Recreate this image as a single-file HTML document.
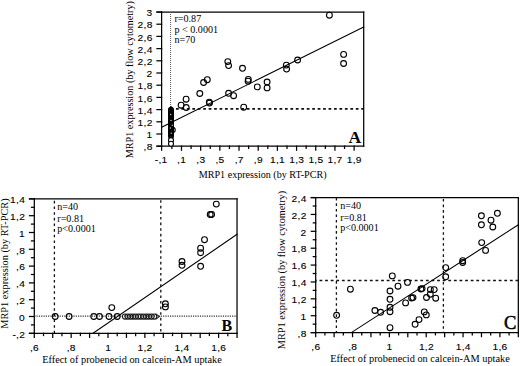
<!DOCTYPE html>
<html><head><meta charset="utf-8"><style>
html,body{margin:0;padding:0;background:#fff;}
body{width:520px;height:366px;overflow:hidden;}
svg{display:block;}
</style></head><body>
<svg width="520" height="366" viewBox="0 0 520 366">
<rect width="520" height="366" fill="#fff"/>
<line x1="157.00" y1="12.00" x2="363.70" y2="12.00" stroke="#000" stroke-width="1.25" stroke-linecap="square"/>
<line x1="363.70" y1="12.00" x2="363.70" y2="146.20" stroke="#000" stroke-width="1.25" stroke-linecap="square"/>
<line x1="157.00" y1="146.20" x2="363.70" y2="146.20" stroke="#000" stroke-width="1.25" stroke-linecap="square"/>
<line x1="161.60" y1="12.00" x2="161.60" y2="150.20" stroke="#000" stroke-width="1.25" stroke-linecap="square"/>
<line x1="157.00" y1="146.20" x2="161.60" y2="146.20" stroke="#000" stroke-width="1.25" stroke-linecap="square"/>
<text transform="translate(152.56,150.40) scale(1.05,1)" font-family='"Liberation Sans", sans-serif' font-size="9.7" font-weight="normal" stroke="#000" stroke-width="0.12" letter-spacing="0.25" text-anchor="end">,8</text>
<line x1="157.00" y1="134.00" x2="161.60" y2="134.00" stroke="#000" stroke-width="1.25" stroke-linecap="square"/>
<text transform="translate(152.56,138.20) scale(1.05,1)" font-family='"Liberation Sans", sans-serif' font-size="9.7" font-weight="normal" stroke="#000" stroke-width="0.12" letter-spacing="0.25" text-anchor="end">1</text>
<line x1="157.00" y1="121.80" x2="161.60" y2="121.80" stroke="#000" stroke-width="1.25" stroke-linecap="square"/>
<text transform="translate(152.56,126.00) scale(1.05,1)" font-family='"Liberation Sans", sans-serif' font-size="9.7" font-weight="normal" stroke="#000" stroke-width="0.12" letter-spacing="0.25" text-anchor="end">1,2</text>
<line x1="157.00" y1="109.60" x2="161.60" y2="109.60" stroke="#000" stroke-width="1.25" stroke-linecap="square"/>
<text transform="translate(152.56,113.80) scale(1.05,1)" font-family='"Liberation Sans", sans-serif' font-size="9.7" font-weight="normal" stroke="#000" stroke-width="0.12" letter-spacing="0.25" text-anchor="end">1,4</text>
<line x1="157.00" y1="97.40" x2="161.60" y2="97.40" stroke="#000" stroke-width="1.25" stroke-linecap="square"/>
<text transform="translate(152.56,101.60) scale(1.05,1)" font-family='"Liberation Sans", sans-serif' font-size="9.7" font-weight="normal" stroke="#000" stroke-width="0.12" letter-spacing="0.25" text-anchor="end">1,6</text>
<line x1="157.00" y1="85.20" x2="161.60" y2="85.20" stroke="#000" stroke-width="1.25" stroke-linecap="square"/>
<text transform="translate(152.56,89.40) scale(1.05,1)" font-family='"Liberation Sans", sans-serif' font-size="9.7" font-weight="normal" stroke="#000" stroke-width="0.12" letter-spacing="0.25" text-anchor="end">1,8</text>
<line x1="157.00" y1="73.00" x2="161.60" y2="73.00" stroke="#000" stroke-width="1.25" stroke-linecap="square"/>
<text transform="translate(152.56,77.20) scale(1.05,1)" font-family='"Liberation Sans", sans-serif' font-size="9.7" font-weight="normal" stroke="#000" stroke-width="0.12" letter-spacing="0.25" text-anchor="end">2</text>
<line x1="157.00" y1="60.80" x2="161.60" y2="60.80" stroke="#000" stroke-width="1.25" stroke-linecap="square"/>
<text transform="translate(152.56,65.00) scale(1.05,1)" font-family='"Liberation Sans", sans-serif' font-size="9.7" font-weight="normal" stroke="#000" stroke-width="0.12" letter-spacing="0.25" text-anchor="end">2,2</text>
<line x1="157.00" y1="48.60" x2="161.60" y2="48.60" stroke="#000" stroke-width="1.25" stroke-linecap="square"/>
<text transform="translate(152.56,52.80) scale(1.05,1)" font-family='"Liberation Sans", sans-serif' font-size="9.7" font-weight="normal" stroke="#000" stroke-width="0.12" letter-spacing="0.25" text-anchor="end">2,4</text>
<line x1="157.00" y1="36.40" x2="161.60" y2="36.40" stroke="#000" stroke-width="1.25" stroke-linecap="square"/>
<text transform="translate(152.56,40.60) scale(1.05,1)" font-family='"Liberation Sans", sans-serif' font-size="9.7" font-weight="normal" stroke="#000" stroke-width="0.12" letter-spacing="0.25" text-anchor="end">2,6</text>
<line x1="157.00" y1="24.20" x2="161.60" y2="24.20" stroke="#000" stroke-width="1.25" stroke-linecap="square"/>
<text transform="translate(152.56,28.40) scale(1.05,1)" font-family='"Liberation Sans", sans-serif' font-size="9.7" font-weight="normal" stroke="#000" stroke-width="0.12" letter-spacing="0.25" text-anchor="end">2,8</text>
<line x1="157.00" y1="12.00" x2="161.60" y2="12.00" stroke="#000" stroke-width="1.25" stroke-linecap="square"/>
<text transform="translate(152.56,16.20) scale(1.05,1)" font-family='"Liberation Sans", sans-serif' font-size="9.7" font-weight="normal" stroke="#000" stroke-width="0.12" letter-spacing="0.25" text-anchor="end">3</text>
<text transform="translate(161.13,163.20) scale(1.05,1)" font-family='"Liberation Sans", sans-serif' font-size="9.7" font-weight="normal" stroke="#000" stroke-width="0.12" letter-spacing="0.25" text-anchor="middle">-,1</text>
<line x1="171.90" y1="146.20" x2="171.90" y2="148.40" stroke="#000" stroke-width="1.25" stroke-linecap="square"/>
<line x1="181.49" y1="146.20" x2="181.49" y2="150.20" stroke="#000" stroke-width="1.25" stroke-linecap="square"/>
<text transform="translate(181.62,163.20) scale(1.05,1)" font-family='"Liberation Sans", sans-serif' font-size="9.7" font-weight="normal" stroke="#000" stroke-width="0.12" letter-spacing="0.25" text-anchor="middle">,1</text>
<line x1="191.08" y1="146.20" x2="191.08" y2="148.40" stroke="#000" stroke-width="1.25" stroke-linecap="square"/>
<line x1="200.67" y1="146.20" x2="200.67" y2="150.20" stroke="#000" stroke-width="1.25" stroke-linecap="square"/>
<text transform="translate(200.80,163.20) scale(1.05,1)" font-family='"Liberation Sans", sans-serif' font-size="9.7" font-weight="normal" stroke="#000" stroke-width="0.12" letter-spacing="0.25" text-anchor="middle">,3</text>
<line x1="210.26" y1="146.20" x2="210.26" y2="148.40" stroke="#000" stroke-width="1.25" stroke-linecap="square"/>
<line x1="219.85" y1="146.20" x2="219.85" y2="150.20" stroke="#000" stroke-width="1.25" stroke-linecap="square"/>
<text transform="translate(219.98,163.20) scale(1.05,1)" font-family='"Liberation Sans", sans-serif' font-size="9.7" font-weight="normal" stroke="#000" stroke-width="0.12" letter-spacing="0.25" text-anchor="middle">,5</text>
<line x1="229.44" y1="146.20" x2="229.44" y2="148.40" stroke="#000" stroke-width="1.25" stroke-linecap="square"/>
<line x1="239.03" y1="146.20" x2="239.03" y2="150.20" stroke="#000" stroke-width="1.25" stroke-linecap="square"/>
<text transform="translate(239.16,163.20) scale(1.05,1)" font-family='"Liberation Sans", sans-serif' font-size="9.7" font-weight="normal" stroke="#000" stroke-width="0.12" letter-spacing="0.25" text-anchor="middle">,7</text>
<line x1="248.62" y1="146.20" x2="248.62" y2="148.40" stroke="#000" stroke-width="1.25" stroke-linecap="square"/>
<line x1="258.21" y1="146.20" x2="258.21" y2="150.20" stroke="#000" stroke-width="1.25" stroke-linecap="square"/>
<text transform="translate(258.34,163.20) scale(1.05,1)" font-family='"Liberation Sans", sans-serif' font-size="9.7" font-weight="normal" stroke="#000" stroke-width="0.12" letter-spacing="0.25" text-anchor="middle">,9</text>
<line x1="267.80" y1="146.20" x2="267.80" y2="148.40" stroke="#000" stroke-width="1.25" stroke-linecap="square"/>
<line x1="277.39" y1="146.20" x2="277.39" y2="150.20" stroke="#000" stroke-width="1.25" stroke-linecap="square"/>
<text transform="translate(277.52,163.20) scale(1.05,1)" font-family='"Liberation Sans", sans-serif' font-size="9.7" font-weight="normal" stroke="#000" stroke-width="0.12" letter-spacing="0.25" text-anchor="middle">1,1</text>
<line x1="286.98" y1="146.20" x2="286.98" y2="148.40" stroke="#000" stroke-width="1.25" stroke-linecap="square"/>
<line x1="296.57" y1="146.20" x2="296.57" y2="150.20" stroke="#000" stroke-width="1.25" stroke-linecap="square"/>
<text transform="translate(296.70,163.20) scale(1.05,1)" font-family='"Liberation Sans", sans-serif' font-size="9.7" font-weight="normal" stroke="#000" stroke-width="0.12" letter-spacing="0.25" text-anchor="middle">1,3</text>
<line x1="306.16" y1="146.20" x2="306.16" y2="148.40" stroke="#000" stroke-width="1.25" stroke-linecap="square"/>
<line x1="315.75" y1="146.20" x2="315.75" y2="150.20" stroke="#000" stroke-width="1.25" stroke-linecap="square"/>
<text transform="translate(315.88,163.20) scale(1.05,1)" font-family='"Liberation Sans", sans-serif' font-size="9.7" font-weight="normal" stroke="#000" stroke-width="0.12" letter-spacing="0.25" text-anchor="middle">1,5</text>
<line x1="325.34" y1="146.20" x2="325.34" y2="148.40" stroke="#000" stroke-width="1.25" stroke-linecap="square"/>
<line x1="334.93" y1="146.20" x2="334.93" y2="150.20" stroke="#000" stroke-width="1.25" stroke-linecap="square"/>
<text transform="translate(335.06,163.20) scale(1.05,1)" font-family='"Liberation Sans", sans-serif' font-size="9.7" font-weight="normal" stroke="#000" stroke-width="0.12" letter-spacing="0.25" text-anchor="middle">1,7</text>
<line x1="344.52" y1="146.20" x2="344.52" y2="148.40" stroke="#000" stroke-width="1.25" stroke-linecap="square"/>
<line x1="354.11" y1="146.20" x2="354.11" y2="150.20" stroke="#000" stroke-width="1.25" stroke-linecap="square"/>
<text transform="translate(354.24,163.20) scale(1.05,1)" font-family='"Liberation Sans", sans-serif' font-size="9.7" font-weight="normal" stroke="#000" stroke-width="0.12" letter-spacing="0.25" text-anchor="middle">1,9</text>
<line x1="170.60" y1="12.00" x2="170.60" y2="107.00" stroke="#555" stroke-width="1.0" stroke-dasharray="1 1"/>
<line x1="175.95" y1="108.90" x2="363.70" y2="108.90" stroke="#111" stroke-width="1.7" stroke-dasharray="2.75 2.7"/>
<line x1="161.60" y1="127.30" x2="363.70" y2="27.10" stroke="#000" stroke-width="1.1" stroke-linecap="square"/>
<circle cx="227.80" cy="61.60" r="2.9" fill="none" stroke="#000" stroke-width="1.1"/>
<circle cx="228.60" cy="65.60" r="2.9" fill="none" stroke="#000" stroke-width="1.1"/>
<circle cx="242.50" cy="68.30" r="2.9" fill="none" stroke="#000" stroke-width="1.1"/>
<circle cx="207.30" cy="79.70" r="2.9" fill="none" stroke="#000" stroke-width="1.1"/>
<circle cx="203.60" cy="82.50" r="2.9" fill="none" stroke="#000" stroke-width="1.1"/>
<circle cx="248.30" cy="79.40" r="2.9" fill="none" stroke="#000" stroke-width="1.1"/>
<circle cx="248.10" cy="81.20" r="2.9" fill="none" stroke="#000" stroke-width="1.1"/>
<circle cx="257.30" cy="86.90" r="2.9" fill="none" stroke="#000" stroke-width="1.1"/>
<circle cx="199.80" cy="93.50" r="2.9" fill="none" stroke="#000" stroke-width="1.1"/>
<circle cx="228.60" cy="93.30" r="2.9" fill="none" stroke="#000" stroke-width="1.1"/>
<circle cx="233.60" cy="95.70" r="2.9" fill="none" stroke="#000" stroke-width="1.1"/>
<circle cx="186.10" cy="99.20" r="2.9" fill="none" stroke="#000" stroke-width="1.1"/>
<circle cx="181.10" cy="105.20" r="2.9" fill="none" stroke="#000" stroke-width="1.1"/>
<circle cx="209.30" cy="102.10" r="2.9" fill="none" stroke="#000" stroke-width="1.1"/>
<circle cx="209.50" cy="103.10" r="2.9" fill="none" stroke="#000" stroke-width="1.1"/>
<circle cx="186.20" cy="107.50" r="2.9" fill="none" stroke="#000" stroke-width="1.1"/>
<circle cx="243.70" cy="107.20" r="2.9" fill="none" stroke="#000" stroke-width="1.1"/>
<circle cx="267.10" cy="82.00" r="2.9" fill="none" stroke="#000" stroke-width="1.1"/>
<circle cx="267.10" cy="87.90" r="2.9" fill="none" stroke="#000" stroke-width="1.1"/>
<circle cx="286.30" cy="65.10" r="2.9" fill="none" stroke="#000" stroke-width="1.1"/>
<circle cx="286.60" cy="69.10" r="2.9" fill="none" stroke="#000" stroke-width="1.1"/>
<circle cx="297.60" cy="60.00" r="2.9" fill="none" stroke="#000" stroke-width="1.1"/>
<circle cx="329.40" cy="15.20" r="2.9" fill="none" stroke="#000" stroke-width="1.1"/>
<circle cx="343.60" cy="54.40" r="2.9" fill="none" stroke="#000" stroke-width="1.1"/>
<circle cx="343.60" cy="63.50" r="2.9" fill="none" stroke="#000" stroke-width="1.1"/>
<circle cx="171.00" cy="109.50" r="2.3" fill="none" stroke="#000" stroke-width="1.1"/>
<circle cx="171.00" cy="110.40" r="2.3" fill="none" stroke="#000" stroke-width="1.1"/>
<circle cx="171.00" cy="111.30" r="2.3" fill="none" stroke="#000" stroke-width="1.1"/>
<circle cx="171.00" cy="112.20" r="2.3" fill="none" stroke="#000" stroke-width="1.1"/>
<circle cx="171.00" cy="113.10" r="2.3" fill="none" stroke="#000" stroke-width="1.1"/>
<circle cx="171.00" cy="114.00" r="2.3" fill="none" stroke="#000" stroke-width="1.1"/>
<circle cx="171.00" cy="114.90" r="2.3" fill="none" stroke="#000" stroke-width="1.1"/>
<circle cx="171.00" cy="115.80" r="2.3" fill="none" stroke="#000" stroke-width="1.1"/>
<circle cx="171.00" cy="116.70" r="2.3" fill="none" stroke="#000" stroke-width="1.1"/>
<circle cx="171.00" cy="117.60" r="2.3" fill="none" stroke="#000" stroke-width="1.1"/>
<circle cx="171.00" cy="118.50" r="2.3" fill="none" stroke="#000" stroke-width="1.1"/>
<circle cx="171.00" cy="119.40" r="2.3" fill="none" stroke="#000" stroke-width="1.1"/>
<circle cx="171.00" cy="120.30" r="2.3" fill="none" stroke="#000" stroke-width="1.1"/>
<circle cx="171.00" cy="121.20" r="2.3" fill="none" stroke="#000" stroke-width="1.1"/>
<circle cx="171.00" cy="122.10" r="2.3" fill="none" stroke="#000" stroke-width="1.1"/>
<circle cx="171.00" cy="123.00" r="2.3" fill="none" stroke="#000" stroke-width="1.1"/>
<circle cx="171.00" cy="123.90" r="2.3" fill="none" stroke="#000" stroke-width="1.1"/>
<circle cx="171.00" cy="124.80" r="2.3" fill="none" stroke="#000" stroke-width="1.1"/>
<circle cx="171.00" cy="125.70" r="2.3" fill="none" stroke="#000" stroke-width="1.1"/>
<circle cx="171.00" cy="126.60" r="2.3" fill="none" stroke="#000" stroke-width="1.1"/>
<circle cx="171.00" cy="127.50" r="2.3" fill="none" stroke="#000" stroke-width="1.1"/>
<circle cx="171.00" cy="128.40" r="2.3" fill="none" stroke="#000" stroke-width="1.1"/>
<circle cx="171.00" cy="129.30" r="2.3" fill="none" stroke="#000" stroke-width="1.1"/>
<circle cx="171.00" cy="130.20" r="2.3" fill="none" stroke="#000" stroke-width="1.1"/>
<circle cx="171.00" cy="131.10" r="2.3" fill="none" stroke="#000" stroke-width="1.1"/>
<circle cx="171.00" cy="132.00" r="2.3" fill="none" stroke="#000" stroke-width="1.1"/>
<circle cx="171.00" cy="132.90" r="2.3" fill="none" stroke="#000" stroke-width="1.1"/>
<circle cx="171.00" cy="133.80" r="2.3" fill="none" stroke="#000" stroke-width="1.1"/>
<circle cx="171.00" cy="134.70" r="2.3" fill="none" stroke="#000" stroke-width="1.1"/>
<circle cx="171.00" cy="135.60" r="2.3" fill="none" stroke="#000" stroke-width="1.1"/>
<circle cx="171.00" cy="136.50" r="2.3" fill="none" stroke="#000" stroke-width="1.1"/>
<rect x="168.40" y="109" width="5.2" height="27" fill="#000"/>
<path d="M168.10,109.5 L171.00,105.8 L173.90,109.5 Z" fill="#000"/>
<circle cx="171.00" cy="140.30" r="2.5" fill="#fff" stroke="#000" stroke-width="1.1"/>
<circle cx="171.00" cy="143.70" r="2.5" fill="#fff" stroke="#000" stroke-width="1.1"/>
<circle cx="172.60" cy="130.00" r="2.6" fill="none" stroke="#000" stroke-width="1.1"/>
<circle cx="171.0" cy="120.6" r="0.75" fill="#bbb"/>
<circle cx="172.3" cy="125.3" r="0.75" fill="#bbb"/>
<circle cx="170.4" cy="127.9" r="0.75" fill="#bbb"/>
<circle cx="171.2" cy="133.2" r="0.75" fill="#bbb"/>
<circle cx="170.6" cy="114.5" r="0.75" fill="#bbb"/>
<text x="174.50" y="21.80" font-family='"Liberation Serif", serif' font-size="10.1" text-anchor="start" font-weight="normal">r=0.87</text>
<text x="174.50" y="32.70" font-family='"Liberation Serif", serif' font-size="10.1" text-anchor="start" font-weight="normal">p &lt; 0.0001</text>
<text x="174.50" y="43.30" font-family='"Liberation Serif", serif' font-size="10.1" text-anchor="start" font-weight="normal">n=70</text>
<text x="361.30" y="142.60" font-family='"Liberation Serif", serif' font-size="17.6" text-anchor="end" font-weight="bold">A</text>
<text x="262.65" y="178.00" font-family='"Liberation Serif", serif' font-size="10.1" text-anchor="middle" font-weight="normal">MRP1 expression (by RT-PCR)</text>
<text transform="translate(133.00,79.70) rotate(-90)" font-family='"Liberation Serif", serif' font-size="10.2" text-anchor="middle">MRP1 expression (by flow cytometry)</text>
<line x1="29.50" y1="198.90" x2="237.03" y2="198.90" stroke="#000" stroke-width="1.25" stroke-linecap="square"/>
<line x1="237.03" y1="198.90" x2="237.03" y2="333.30" stroke="#000" stroke-width="1.25" stroke-linecap="square"/>
<line x1="29.50" y1="333.30" x2="237.03" y2="333.30" stroke="#000" stroke-width="1.25" stroke-linecap="square"/>
<line x1="34.30" y1="198.90" x2="34.30" y2="333.30" stroke="#000" stroke-width="1.25" stroke-linecap="square"/>
<line x1="29.50" y1="333.30" x2="34.30" y2="333.30" stroke="#000" stroke-width="1.25" stroke-linecap="square"/>
<text transform="translate(25.06,337.50) scale(1.05,1)" font-family='"Liberation Sans", sans-serif' font-size="9.7" font-weight="normal" stroke="#000" stroke-width="0.12" letter-spacing="0.25" text-anchor="end">-,2</text>
<line x1="31.50" y1="324.90" x2="34.30" y2="324.90" stroke="#000" stroke-width="1.25" stroke-linecap="square"/>
<line x1="29.50" y1="316.50" x2="34.30" y2="316.50" stroke="#000" stroke-width="1.25" stroke-linecap="square"/>
<text transform="translate(25.06,320.70) scale(1.05,1)" font-family='"Liberation Sans", sans-serif' font-size="9.7" font-weight="normal" stroke="#000" stroke-width="0.12" letter-spacing="0.25" text-anchor="end">0</text>
<line x1="31.50" y1="308.10" x2="34.30" y2="308.10" stroke="#000" stroke-width="1.25" stroke-linecap="square"/>
<line x1="29.50" y1="299.70" x2="34.30" y2="299.70" stroke="#000" stroke-width="1.25" stroke-linecap="square"/>
<text transform="translate(25.06,303.90) scale(1.05,1)" font-family='"Liberation Sans", sans-serif' font-size="9.7" font-weight="normal" stroke="#000" stroke-width="0.12" letter-spacing="0.25" text-anchor="end">,2</text>
<line x1="31.50" y1="291.30" x2="34.30" y2="291.30" stroke="#000" stroke-width="1.25" stroke-linecap="square"/>
<line x1="29.50" y1="282.90" x2="34.30" y2="282.90" stroke="#000" stroke-width="1.25" stroke-linecap="square"/>
<text transform="translate(25.06,287.10) scale(1.05,1)" font-family='"Liberation Sans", sans-serif' font-size="9.7" font-weight="normal" stroke="#000" stroke-width="0.12" letter-spacing="0.25" text-anchor="end">,4</text>
<line x1="31.50" y1="274.50" x2="34.30" y2="274.50" stroke="#000" stroke-width="1.25" stroke-linecap="square"/>
<line x1="29.50" y1="266.10" x2="34.30" y2="266.10" stroke="#000" stroke-width="1.25" stroke-linecap="square"/>
<text transform="translate(25.06,270.30) scale(1.05,1)" font-family='"Liberation Sans", sans-serif' font-size="9.7" font-weight="normal" stroke="#000" stroke-width="0.12" letter-spacing="0.25" text-anchor="end">,6</text>
<line x1="31.50" y1="257.70" x2="34.30" y2="257.70" stroke="#000" stroke-width="1.25" stroke-linecap="square"/>
<line x1="29.50" y1="249.30" x2="34.30" y2="249.30" stroke="#000" stroke-width="1.25" stroke-linecap="square"/>
<text transform="translate(25.06,253.50) scale(1.05,1)" font-family='"Liberation Sans", sans-serif' font-size="9.7" font-weight="normal" stroke="#000" stroke-width="0.12" letter-spacing="0.25" text-anchor="end">,8</text>
<line x1="31.50" y1="240.90" x2="34.30" y2="240.90" stroke="#000" stroke-width="1.25" stroke-linecap="square"/>
<line x1="29.50" y1="232.50" x2="34.30" y2="232.50" stroke="#000" stroke-width="1.25" stroke-linecap="square"/>
<text transform="translate(25.06,236.70) scale(1.05,1)" font-family='"Liberation Sans", sans-serif' font-size="9.7" font-weight="normal" stroke="#000" stroke-width="0.12" letter-spacing="0.25" text-anchor="end">1</text>
<line x1="31.50" y1="224.10" x2="34.30" y2="224.10" stroke="#000" stroke-width="1.25" stroke-linecap="square"/>
<line x1="29.50" y1="215.70" x2="34.30" y2="215.70" stroke="#000" stroke-width="1.25" stroke-linecap="square"/>
<text transform="translate(25.06,219.90) scale(1.05,1)" font-family='"Liberation Sans", sans-serif' font-size="9.7" font-weight="normal" stroke="#000" stroke-width="0.12" letter-spacing="0.25" text-anchor="end">1,2</text>
<line x1="31.50" y1="207.30" x2="34.30" y2="207.30" stroke="#000" stroke-width="1.25" stroke-linecap="square"/>
<line x1="29.50" y1="198.90" x2="34.30" y2="198.90" stroke="#000" stroke-width="1.25" stroke-linecap="square"/>
<text transform="translate(25.06,203.10) scale(1.05,1)" font-family='"Liberation Sans", sans-serif' font-size="9.7" font-weight="normal" stroke="#000" stroke-width="0.12" letter-spacing="0.25" text-anchor="end">1,4</text>
<line x1="34.30" y1="333.30" x2="34.30" y2="337.30" stroke="#000" stroke-width="1.25" stroke-linecap="square"/>
<text transform="translate(34.43,351.20) scale(1.05,1)" font-family='"Liberation Sans", sans-serif' font-size="9.7" font-weight="normal" stroke="#000" stroke-width="0.12" letter-spacing="0.25" text-anchor="middle">,6</text>
<line x1="43.52" y1="333.30" x2="43.52" y2="335.50" stroke="#000" stroke-width="1.25" stroke-linecap="square"/>
<line x1="52.73" y1="333.30" x2="52.73" y2="337.30" stroke="#000" stroke-width="1.25" stroke-linecap="square"/>
<line x1="61.95" y1="333.30" x2="61.95" y2="335.50" stroke="#000" stroke-width="1.25" stroke-linecap="square"/>
<line x1="71.16" y1="333.30" x2="71.16" y2="337.30" stroke="#000" stroke-width="1.25" stroke-linecap="square"/>
<text transform="translate(71.29,351.20) scale(1.05,1)" font-family='"Liberation Sans", sans-serif' font-size="9.7" font-weight="normal" stroke="#000" stroke-width="0.12" letter-spacing="0.25" text-anchor="middle">,8</text>
<line x1="80.38" y1="333.30" x2="80.38" y2="335.50" stroke="#000" stroke-width="1.25" stroke-linecap="square"/>
<line x1="89.59" y1="333.30" x2="89.59" y2="337.30" stroke="#000" stroke-width="1.25" stroke-linecap="square"/>
<line x1="98.80" y1="333.30" x2="98.80" y2="335.50" stroke="#000" stroke-width="1.25" stroke-linecap="square"/>
<line x1="108.02" y1="333.30" x2="108.02" y2="337.30" stroke="#000" stroke-width="1.25" stroke-linecap="square"/>
<text transform="translate(108.15,351.20) scale(1.05,1)" font-family='"Liberation Sans", sans-serif' font-size="9.7" font-weight="normal" stroke="#000" stroke-width="0.12" letter-spacing="0.25" text-anchor="middle">1</text>
<line x1="117.24" y1="333.30" x2="117.24" y2="335.50" stroke="#000" stroke-width="1.25" stroke-linecap="square"/>
<line x1="126.45" y1="333.30" x2="126.45" y2="337.30" stroke="#000" stroke-width="1.25" stroke-linecap="square"/>
<line x1="135.66" y1="333.30" x2="135.66" y2="335.50" stroke="#000" stroke-width="1.25" stroke-linecap="square"/>
<line x1="144.88" y1="333.30" x2="144.88" y2="337.30" stroke="#000" stroke-width="1.25" stroke-linecap="square"/>
<text transform="translate(145.01,351.20) scale(1.05,1)" font-family='"Liberation Sans", sans-serif' font-size="9.7" font-weight="normal" stroke="#000" stroke-width="0.12" letter-spacing="0.25" text-anchor="middle">1,2</text>
<line x1="154.10" y1="333.30" x2="154.10" y2="335.50" stroke="#000" stroke-width="1.25" stroke-linecap="square"/>
<line x1="163.31" y1="333.30" x2="163.31" y2="337.30" stroke="#000" stroke-width="1.25" stroke-linecap="square"/>
<line x1="172.53" y1="333.30" x2="172.53" y2="335.50" stroke="#000" stroke-width="1.25" stroke-linecap="square"/>
<line x1="181.74" y1="333.30" x2="181.74" y2="337.30" stroke="#000" stroke-width="1.25" stroke-linecap="square"/>
<text transform="translate(181.87,351.20) scale(1.05,1)" font-family='"Liberation Sans", sans-serif' font-size="9.7" font-weight="normal" stroke="#000" stroke-width="0.12" letter-spacing="0.25" text-anchor="middle">1,4</text>
<line x1="190.96" y1="333.30" x2="190.96" y2="335.50" stroke="#000" stroke-width="1.25" stroke-linecap="square"/>
<line x1="200.17" y1="333.30" x2="200.17" y2="337.30" stroke="#000" stroke-width="1.25" stroke-linecap="square"/>
<line x1="209.39" y1="333.30" x2="209.39" y2="335.50" stroke="#000" stroke-width="1.25" stroke-linecap="square"/>
<line x1="218.60" y1="333.30" x2="218.60" y2="337.30" stroke="#000" stroke-width="1.25" stroke-linecap="square"/>
<text transform="translate(218.73,351.20) scale(1.05,1)" font-family='"Liberation Sans", sans-serif' font-size="9.7" font-weight="normal" stroke="#000" stroke-width="0.12" letter-spacing="0.25" text-anchor="middle">1,6</text>
<line x1="227.81" y1="333.30" x2="227.81" y2="335.50" stroke="#000" stroke-width="1.25" stroke-linecap="square"/>
<line x1="237.03" y1="333.30" x2="237.03" y2="337.30" stroke="#000" stroke-width="1.25" stroke-linecap="square"/>
<line x1="34.30" y1="316.10" x2="237.03" y2="316.10" stroke="#333" stroke-width="1.3" stroke-dasharray="1.2 1.1"/>
<line x1="54.40" y1="198.90" x2="54.40" y2="333.30" stroke="#111" stroke-width="1.3" stroke-dasharray="2.6 3.05" stroke-dashoffset="3.70"/>
<line x1="160.80" y1="198.90" x2="160.80" y2="333.30" stroke="#111" stroke-width="1.3" stroke-dasharray="2.6 3.00" stroke-dashoffset="4.30"/>
<line x1="93.10" y1="333.30" x2="237.03" y2="234.30" stroke="#000" stroke-width="1.1" stroke-linecap="square"/>
<circle cx="55.20" cy="316.50" r="2.9" fill="none" stroke="#000" stroke-width="1.1"/>
<circle cx="69.10" cy="316.50" r="2.9" fill="none" stroke="#000" stroke-width="1.1"/>
<circle cx="93.80" cy="316.50" r="2.9" fill="none" stroke="#000" stroke-width="1.1"/>
<circle cx="99.50" cy="316.50" r="2.9" fill="none" stroke="#000" stroke-width="1.1"/>
<circle cx="109.00" cy="316.50" r="2.9" fill="none" stroke="#000" stroke-width="1.1"/>
<circle cx="117.20" cy="316.50" r="2.9" fill="none" stroke="#000" stroke-width="1.1"/>
<circle cx="111.80" cy="307.60" r="2.9" fill="none" stroke="#000" stroke-width="1.1"/>
<circle cx="216.30" cy="204.10" r="2.9" fill="none" stroke="#000" stroke-width="1.1"/>
<circle cx="210.20" cy="214.50" r="2.9" fill="none" stroke="#000" stroke-width="1.1"/>
<circle cx="211.60" cy="214.50" r="2.9" fill="none" stroke="#000" stroke-width="1.1"/>
<circle cx="204.50" cy="239.70" r="2.9" fill="none" stroke="#000" stroke-width="1.1"/>
<circle cx="200.60" cy="248.20" r="2.9" fill="none" stroke="#000" stroke-width="1.1"/>
<circle cx="200.60" cy="252.70" r="2.9" fill="none" stroke="#000" stroke-width="1.1"/>
<circle cx="200.60" cy="266.30" r="2.9" fill="none" stroke="#000" stroke-width="1.1"/>
<circle cx="182.00" cy="261.50" r="2.9" fill="none" stroke="#000" stroke-width="1.1"/>
<circle cx="182.00" cy="265.30" r="2.9" fill="none" stroke="#000" stroke-width="1.1"/>
<circle cx="165.40" cy="303.80" r="2.9" fill="none" stroke="#000" stroke-width="1.1"/>
<circle cx="165.40" cy="306.90" r="2.9" fill="none" stroke="#000" stroke-width="1.1"/>
<circle cx="125.00" cy="316.50" r="2.6" fill="none" stroke="#1a1a1a" stroke-width="1.05"/>
<circle cx="127.65" cy="316.50" r="2.6" fill="none" stroke="#1a1a1a" stroke-width="1.05"/>
<circle cx="130.30" cy="316.50" r="2.6" fill="none" stroke="#1a1a1a" stroke-width="1.05"/>
<circle cx="132.95" cy="316.50" r="2.6" fill="none" stroke="#1a1a1a" stroke-width="1.05"/>
<circle cx="135.60" cy="316.50" r="2.6" fill="none" stroke="#1a1a1a" stroke-width="1.05"/>
<circle cx="138.25" cy="316.50" r="2.6" fill="none" stroke="#1a1a1a" stroke-width="1.05"/>
<circle cx="140.90" cy="316.50" r="2.6" fill="none" stroke="#1a1a1a" stroke-width="1.05"/>
<circle cx="143.55" cy="316.50" r="2.6" fill="none" stroke="#1a1a1a" stroke-width="1.05"/>
<circle cx="146.20" cy="316.50" r="2.6" fill="none" stroke="#1a1a1a" stroke-width="1.05"/>
<circle cx="148.85" cy="316.50" r="2.6" fill="none" stroke="#1a1a1a" stroke-width="1.05"/>
<circle cx="151.50" cy="316.50" r="2.6" fill="none" stroke="#1a1a1a" stroke-width="1.05"/>
<circle cx="154.15" cy="316.50" r="2.6" fill="none" stroke="#1a1a1a" stroke-width="1.05"/>
<path d="M155.6,313.60 L159.4,316.50 L155.6,319.40" fill="none" stroke="#222" stroke-width="1.1"/>
<text x="57.30" y="210.20" font-family='"Liberation Serif", serif' font-size="10.1" text-anchor="start" font-weight="normal">n=40</text>
<text x="57.30" y="221.50" font-family='"Liberation Serif", serif' font-size="10.1" text-anchor="start" font-weight="normal">r=0.81</text>
<text x="57.30" y="231.80" font-family='"Liberation Serif", serif' font-size="10.1" text-anchor="start" font-weight="normal">p&lt;0.0001</text>
<text x="232.20" y="330.50" font-family='"Liberation Serif", serif' font-size="16" text-anchor="end" font-weight="bold">B</text>
<text x="132.00" y="362.50" font-family='"Liberation Serif", serif' font-size="10.34" text-anchor="middle" font-weight="normal">Effect of probenecid on calcein-AM uptake</text>
<text transform="translate(8.30,263.55) rotate(-90)" font-family='"Liberation Serif", serif' font-size="10.3" text-anchor="middle">MRP1 expression (by RT-PCR)</text>
<line x1="311.30" y1="197.56" x2="518.32" y2="197.56" stroke="#000" stroke-width="1.25" stroke-linecap="square"/>
<line x1="518.32" y1="197.56" x2="518.32" y2="332.60" stroke="#000" stroke-width="1.25" stroke-linecap="square"/>
<line x1="311.30" y1="332.60" x2="518.32" y2="332.60" stroke="#000" stroke-width="1.25" stroke-linecap="square"/>
<line x1="315.70" y1="197.56" x2="315.70" y2="336.60" stroke="#000" stroke-width="1.25" stroke-linecap="square"/>
<line x1="311.30" y1="332.60" x2="315.70" y2="332.60" stroke="#000" stroke-width="1.25" stroke-linecap="square"/>
<text transform="translate(306.56,336.80) scale(1.05,1)" font-family='"Liberation Sans", sans-serif' font-size="9.7" font-weight="normal" stroke="#000" stroke-width="0.12" letter-spacing="0.25" text-anchor="end">,8</text>
<line x1="313.30" y1="324.16" x2="315.70" y2="324.16" stroke="#000" stroke-width="1.25" stroke-linecap="square"/>
<line x1="311.30" y1="315.72" x2="315.70" y2="315.72" stroke="#000" stroke-width="1.25" stroke-linecap="square"/>
<text transform="translate(306.56,319.92) scale(1.05,1)" font-family='"Liberation Sans", sans-serif' font-size="9.7" font-weight="normal" stroke="#000" stroke-width="0.12" letter-spacing="0.25" text-anchor="end">1</text>
<line x1="313.30" y1="307.28" x2="315.70" y2="307.28" stroke="#000" stroke-width="1.25" stroke-linecap="square"/>
<line x1="311.30" y1="298.84" x2="315.70" y2="298.84" stroke="#000" stroke-width="1.25" stroke-linecap="square"/>
<text transform="translate(306.56,303.04) scale(1.05,1)" font-family='"Liberation Sans", sans-serif' font-size="9.7" font-weight="normal" stroke="#000" stroke-width="0.12" letter-spacing="0.25" text-anchor="end">1,2</text>
<line x1="313.30" y1="290.40" x2="315.70" y2="290.40" stroke="#000" stroke-width="1.25" stroke-linecap="square"/>
<line x1="311.30" y1="281.96" x2="315.70" y2="281.96" stroke="#000" stroke-width="1.25" stroke-linecap="square"/>
<text transform="translate(306.56,286.16) scale(1.05,1)" font-family='"Liberation Sans", sans-serif' font-size="9.7" font-weight="normal" stroke="#000" stroke-width="0.12" letter-spacing="0.25" text-anchor="end">1,4</text>
<line x1="313.30" y1="273.52" x2="315.70" y2="273.52" stroke="#000" stroke-width="1.25" stroke-linecap="square"/>
<line x1="311.30" y1="265.08" x2="315.70" y2="265.08" stroke="#000" stroke-width="1.25" stroke-linecap="square"/>
<text transform="translate(306.56,269.28) scale(1.05,1)" font-family='"Liberation Sans", sans-serif' font-size="9.7" font-weight="normal" stroke="#000" stroke-width="0.12" letter-spacing="0.25" text-anchor="end">1,6</text>
<line x1="313.30" y1="256.64" x2="315.70" y2="256.64" stroke="#000" stroke-width="1.25" stroke-linecap="square"/>
<line x1="311.30" y1="248.20" x2="315.70" y2="248.20" stroke="#000" stroke-width="1.25" stroke-linecap="square"/>
<text transform="translate(306.56,252.40) scale(1.05,1)" font-family='"Liberation Sans", sans-serif' font-size="9.7" font-weight="normal" stroke="#000" stroke-width="0.12" letter-spacing="0.25" text-anchor="end">1,8</text>
<line x1="313.30" y1="239.76" x2="315.70" y2="239.76" stroke="#000" stroke-width="1.25" stroke-linecap="square"/>
<line x1="311.30" y1="231.32" x2="315.70" y2="231.32" stroke="#000" stroke-width="1.25" stroke-linecap="square"/>
<text transform="translate(306.56,235.52) scale(1.05,1)" font-family='"Liberation Sans", sans-serif' font-size="9.7" font-weight="normal" stroke="#000" stroke-width="0.12" letter-spacing="0.25" text-anchor="end">2</text>
<line x1="313.30" y1="222.88" x2="315.70" y2="222.88" stroke="#000" stroke-width="1.25" stroke-linecap="square"/>
<line x1="311.30" y1="214.44" x2="315.70" y2="214.44" stroke="#000" stroke-width="1.25" stroke-linecap="square"/>
<text transform="translate(306.56,218.64) scale(1.05,1)" font-family='"Liberation Sans", sans-serif' font-size="9.7" font-weight="normal" stroke="#000" stroke-width="0.12" letter-spacing="0.25" text-anchor="end">2,2</text>
<line x1="313.30" y1="206.00" x2="315.70" y2="206.00" stroke="#000" stroke-width="1.25" stroke-linecap="square"/>
<line x1="311.30" y1="197.56" x2="315.70" y2="197.56" stroke="#000" stroke-width="1.25" stroke-linecap="square"/>
<text transform="translate(306.56,201.76) scale(1.05,1)" font-family='"Liberation Sans", sans-serif' font-size="9.7" font-weight="normal" stroke="#000" stroke-width="0.12" letter-spacing="0.25" text-anchor="end">2,4</text>
<line x1="324.91" y1="332.60" x2="324.91" y2="334.80" stroke="#000" stroke-width="1.25" stroke-linecap="square"/>
<line x1="334.12" y1="332.60" x2="334.12" y2="336.60" stroke="#000" stroke-width="1.25" stroke-linecap="square"/>
<line x1="343.33" y1="332.60" x2="343.33" y2="334.80" stroke="#000" stroke-width="1.25" stroke-linecap="square"/>
<line x1="352.54" y1="332.60" x2="352.54" y2="336.60" stroke="#000" stroke-width="1.25" stroke-linecap="square"/>
<text transform="translate(352.67,349.90) scale(1.05,1)" font-family='"Liberation Sans", sans-serif' font-size="9.7" font-weight="normal" stroke="#000" stroke-width="0.12" letter-spacing="0.25" text-anchor="middle">,8</text>
<line x1="361.75" y1="332.60" x2="361.75" y2="334.80" stroke="#000" stroke-width="1.25" stroke-linecap="square"/>
<line x1="370.96" y1="332.60" x2="370.96" y2="336.60" stroke="#000" stroke-width="1.25" stroke-linecap="square"/>
<line x1="380.17" y1="332.60" x2="380.17" y2="334.80" stroke="#000" stroke-width="1.25" stroke-linecap="square"/>
<line x1="389.38" y1="332.60" x2="389.38" y2="336.60" stroke="#000" stroke-width="1.25" stroke-linecap="square"/>
<text transform="translate(389.51,349.90) scale(1.05,1)" font-family='"Liberation Sans", sans-serif' font-size="9.7" font-weight="normal" stroke="#000" stroke-width="0.12" letter-spacing="0.25" text-anchor="middle">1</text>
<line x1="398.59" y1="332.60" x2="398.59" y2="334.80" stroke="#000" stroke-width="1.25" stroke-linecap="square"/>
<line x1="407.80" y1="332.60" x2="407.80" y2="336.60" stroke="#000" stroke-width="1.25" stroke-linecap="square"/>
<line x1="417.01" y1="332.60" x2="417.01" y2="334.80" stroke="#000" stroke-width="1.25" stroke-linecap="square"/>
<line x1="426.22" y1="332.60" x2="426.22" y2="336.60" stroke="#000" stroke-width="1.25" stroke-linecap="square"/>
<text transform="translate(426.35,349.90) scale(1.05,1)" font-family='"Liberation Sans", sans-serif' font-size="9.7" font-weight="normal" stroke="#000" stroke-width="0.12" letter-spacing="0.25" text-anchor="middle">1,2</text>
<line x1="435.43" y1="332.60" x2="435.43" y2="334.80" stroke="#000" stroke-width="1.25" stroke-linecap="square"/>
<line x1="444.64" y1="332.60" x2="444.64" y2="336.60" stroke="#000" stroke-width="1.25" stroke-linecap="square"/>
<line x1="453.85" y1="332.60" x2="453.85" y2="334.80" stroke="#000" stroke-width="1.25" stroke-linecap="square"/>
<line x1="463.06" y1="332.60" x2="463.06" y2="336.60" stroke="#000" stroke-width="1.25" stroke-linecap="square"/>
<text transform="translate(463.19,349.90) scale(1.05,1)" font-family='"Liberation Sans", sans-serif' font-size="9.7" font-weight="normal" stroke="#000" stroke-width="0.12" letter-spacing="0.25" text-anchor="middle">1,4</text>
<line x1="472.27" y1="332.60" x2="472.27" y2="334.80" stroke="#000" stroke-width="1.25" stroke-linecap="square"/>
<line x1="481.48" y1="332.60" x2="481.48" y2="336.60" stroke="#000" stroke-width="1.25" stroke-linecap="square"/>
<line x1="490.69" y1="332.60" x2="490.69" y2="334.80" stroke="#000" stroke-width="1.25" stroke-linecap="square"/>
<line x1="499.90" y1="332.60" x2="499.90" y2="336.60" stroke="#000" stroke-width="1.25" stroke-linecap="square"/>
<text transform="translate(500.03,349.90) scale(1.05,1)" font-family='"Liberation Sans", sans-serif' font-size="9.7" font-weight="normal" stroke="#000" stroke-width="0.12" letter-spacing="0.25" text-anchor="middle">1,6</text>
<line x1="509.11" y1="332.60" x2="509.11" y2="334.80" stroke="#000" stroke-width="1.25" stroke-linecap="square"/>
<line x1="518.32" y1="332.60" x2="518.32" y2="336.60" stroke="#000" stroke-width="1.25" stroke-linecap="square"/>
<text transform="translate(315.83,349.90) scale(1.05,1)" font-family='"Liberation Sans", sans-serif' font-size="9.7" font-weight="normal" stroke="#000" stroke-width="0.12" letter-spacing="0.25" text-anchor="middle">,6</text>
<line x1="336.40" y1="197.56" x2="336.40" y2="332.60" stroke="#111" stroke-width="1.3" stroke-dasharray="2.6 2.95" stroke-dashoffset="5.31"/>
<line x1="443.40" y1="197.56" x2="443.40" y2="332.60" stroke="#111" stroke-width="1.3" stroke-dasharray="2.6 2.93" stroke-dashoffset="4.09"/>
<line x1="315.70" y1="280.50" x2="518.32" y2="280.50" stroke="#111" stroke-width="1.4" stroke-dasharray="2.8 2.80" stroke-dashoffset="1.80"/>
<line x1="351.30" y1="332.60" x2="518.32" y2="224.80" stroke="#000" stroke-width="1.1" stroke-linecap="square"/>
<circle cx="481.40" cy="215.80" r="2.9" fill="none" stroke="#000" stroke-width="1.1"/>
<circle cx="497.40" cy="213.30" r="2.9" fill="none" stroke="#000" stroke-width="1.1"/>
<circle cx="491.00" cy="220.20" r="2.9" fill="none" stroke="#000" stroke-width="1.1"/>
<circle cx="481.40" cy="224.80" r="2.9" fill="none" stroke="#000" stroke-width="1.1"/>
<circle cx="492.80" cy="227.00" r="2.9" fill="none" stroke="#000" stroke-width="1.1"/>
<circle cx="481.70" cy="242.60" r="2.9" fill="none" stroke="#000" stroke-width="1.1"/>
<circle cx="485.60" cy="250.40" r="2.9" fill="none" stroke="#000" stroke-width="1.1"/>
<circle cx="462.70" cy="260.70" r="2.9" fill="none" stroke="#000" stroke-width="1.1"/>
<circle cx="462.70" cy="262.50" r="2.9" fill="none" stroke="#000" stroke-width="1.1"/>
<circle cx="445.70" cy="267.60" r="2.9" fill="none" stroke="#000" stroke-width="1.1"/>
<circle cx="445.70" cy="276.80" r="2.9" fill="none" stroke="#000" stroke-width="1.1"/>
<circle cx="392.30" cy="275.90" r="2.9" fill="none" stroke="#000" stroke-width="1.1"/>
<circle cx="398.00" cy="286.20" r="2.9" fill="none" stroke="#000" stroke-width="1.1"/>
<circle cx="407.50" cy="282.40" r="2.9" fill="none" stroke="#000" stroke-width="1.1"/>
<circle cx="390.00" cy="291.00" r="2.9" fill="none" stroke="#000" stroke-width="1.1"/>
<circle cx="390.00" cy="299.30" r="2.9" fill="none" stroke="#000" stroke-width="1.1"/>
<circle cx="390.00" cy="307.30" r="2.9" fill="none" stroke="#000" stroke-width="1.1"/>
<circle cx="390.00" cy="311.70" r="2.9" fill="none" stroke="#000" stroke-width="1.1"/>
<circle cx="374.90" cy="310.50" r="2.9" fill="none" stroke="#000" stroke-width="1.1"/>
<circle cx="380.60" cy="312.30" r="2.9" fill="none" stroke="#000" stroke-width="1.1"/>
<circle cx="390.00" cy="327.70" r="2.9" fill="none" stroke="#000" stroke-width="1.1"/>
<circle cx="405.60" cy="302.90" r="2.9" fill="none" stroke="#000" stroke-width="1.1"/>
<circle cx="411.60" cy="298.00" r="2.9" fill="none" stroke="#000" stroke-width="1.1"/>
<circle cx="413.00" cy="297.60" r="2.9" fill="none" stroke="#000" stroke-width="1.1"/>
<circle cx="415.10" cy="324.30" r="2.9" fill="none" stroke="#000" stroke-width="1.1"/>
<circle cx="419.00" cy="319.60" r="2.9" fill="none" stroke="#000" stroke-width="1.1"/>
<circle cx="420.90" cy="289.00" r="2.9" fill="none" stroke="#000" stroke-width="1.1"/>
<circle cx="422.10" cy="288.60" r="2.9" fill="none" stroke="#000" stroke-width="1.1"/>
<circle cx="430.40" cy="289.60" r="2.9" fill="none" stroke="#000" stroke-width="1.1"/>
<circle cx="434.20" cy="289.60" r="2.9" fill="none" stroke="#000" stroke-width="1.1"/>
<circle cx="430.30" cy="294.20" r="2.9" fill="none" stroke="#000" stroke-width="1.1"/>
<circle cx="426.50" cy="297.50" r="2.9" fill="none" stroke="#000" stroke-width="1.1"/>
<circle cx="435.70" cy="298.20" r="2.9" fill="none" stroke="#000" stroke-width="1.1"/>
<circle cx="424.30" cy="311.90" r="2.9" fill="none" stroke="#000" stroke-width="1.1"/>
<circle cx="426.30" cy="314.90" r="2.9" fill="none" stroke="#000" stroke-width="1.1"/>
<circle cx="350.40" cy="289.20" r="2.9" fill="none" stroke="#000" stroke-width="1.1"/>
<circle cx="336.60" cy="315.30" r="2.9" fill="none" stroke="#000" stroke-width="1.1"/>
<text x="340.20" y="208.80" font-family='"Liberation Serif", serif' font-size="10.1" text-anchor="start" font-weight="normal">n=40</text>
<text x="340.20" y="220.50" font-family='"Liberation Serif", serif' font-size="10.1" text-anchor="start" font-weight="normal">r=0.81</text>
<text x="340.20" y="230.80" font-family='"Liberation Serif", serif' font-size="10.1" text-anchor="start" font-weight="normal">p&lt;0.0001</text>
<text x="516.30" y="329.00" font-family='"Liberation Serif", serif' font-size="18.5" text-anchor="end" font-weight="normal" stroke="#000" stroke-width="0.5">C</text>
<text x="420.00" y="362.40" font-family='"Liberation Serif", serif' font-size="10.34" text-anchor="middle" font-weight="normal">Effect of probenecid on calcein-AM uptake</text>
<text transform="translate(285.00,270.00) rotate(-90)" font-family='"Liberation Serif", serif' font-size="10.25" text-anchor="middle">MRP1 expression (by flow cytometry)</text>
</svg>
</body></html>
